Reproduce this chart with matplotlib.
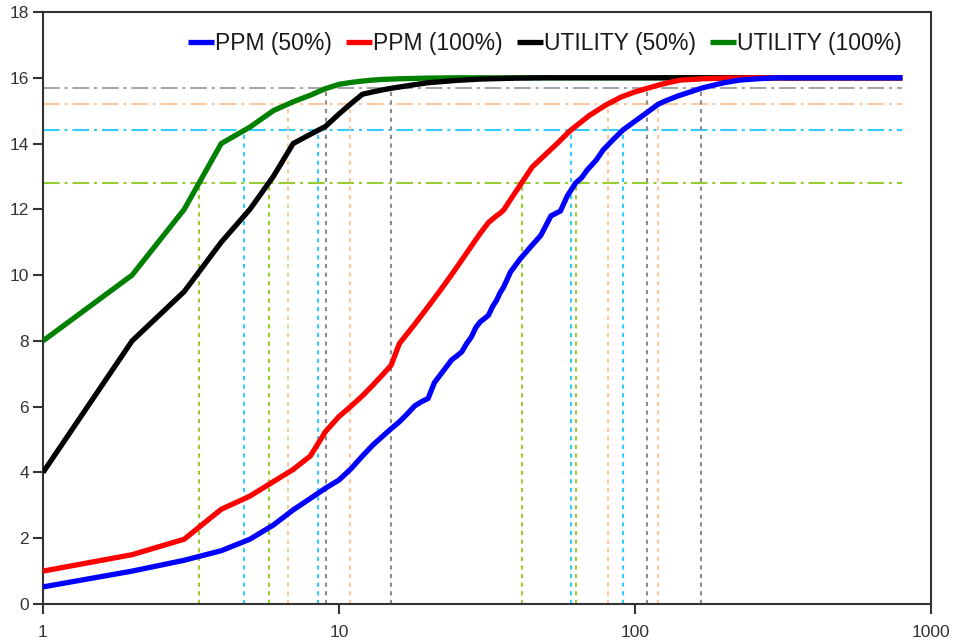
import numpy as np
import matplotlib
matplotlib.use("Agg")
import matplotlib.pyplot as plt

plt.rcParams['font.family'] = ['Liberation Sans', 'DejaVu Sans']
plt.rcParams['lines.scale_dashes'] = False

# ---- data -------------------------------------------------------------
total = 16.0
fractions = [0.80, 0.90, 0.95, 0.98]
fraction_colors = ['#99CC33', '#33CCFF', '#FDC89E', '#8C8C8C']
fraction_hcolors = ['#99CC33', '#33CCFF', '#FDC89E', '#A6A6A6']

util_x = [1, 2, 3, 4, 5, 6, 7, 8, 9, 10, 11, 12, 13, 14, 15, 16, 18, 20,
          25, 30, 40, 50, 800]
util100_y = [8.0, 10.0, 12.0, 14.0, 14.5, 15.0, 15.27, 15.47, 15.67, 15.8,
             15.86, 15.9, 15.93, 15.95, 15.96, 15.97, 15.98, 15.99, 16.0,
             16.0, 16.0, 16.0, 16.0]
util50_y = [4.0, 8.0, 9.5, 11.0, 12.0, 13.0, 14.0, 14.28, 14.52, 14.9,
            15.22, 15.5, 15.57, 15.63, 15.68, 15.72, 15.79, 15.85, 15.92,
            15.96, 15.99, 16.0, 16.0]

ppm100_x = [1, 2, 3, 4, 5, 6, 7, 8, 9, 10, 11, 12, 13, 14, 15, 16, 18, 20,
            22, 24, 26, 28, 30, 32, 33, 34, 35, 36, 38, 40, 42, 45, 50, 55,
            60, 65, 70, 80, 90, 100, 110, 125, 142, 170, 200, 250, 800]
ppm100_y = [1.0, 1.5, 1.97, 2.88, 3.28, 3.72, 4.09, 4.5, 5.24, 5.7, 6.02,
            6.33, 6.65, 6.96, 7.26, 7.92, 8.5, 9.04, 9.54, 10.01, 10.46,
            10.88, 11.27, 11.6, 11.7, 11.8, 11.88, 11.98, 12.3, 12.6, 12.89,
            13.29, 13.68, 14.03, 14.37, 14.62, 14.85, 15.18, 15.42, 15.57,
            15.68, 15.82, 15.93, 15.97, 15.99, 16.0, 16.0]

ppm50_x = [1, 2, 3, 4, 5, 6, 7, 8, 9, 10, 11, 12, 13, 14, 15, 16, 17, 18,
           19, 20, 21, 22, 23, 24, 25, 26, 27, 28, 29, 30, 31, 32, 33, 34,
           35, 36, 38, 41, 45, 48, 52, 56, 59, 63, 66, 69, 74, 78, 85, 91,
           100, 110, 120, 127, 140, 161, 170, 200, 226, 260, 300, 800]
ppm50_y = [0.52, 1.0, 1.33, 1.62, 1.97, 2.4, 2.86, 3.21, 3.52, 3.77, 4.12,
           4.5, 4.83, 5.09, 5.33, 5.54, 5.78, 6.02, 6.15, 6.25, 6.73, 6.97,
           7.2, 7.42, 7.54, 7.67, 7.92, 8.12, 8.41, 8.58, 8.68, 8.78, 9.04,
           9.22, 9.46, 9.64, 10.1, 10.5, 10.92, 11.2, 11.8, 11.95, 12.4,
           12.8, 12.96, 13.2, 13.5, 13.8, 14.15, 14.41, 14.68, 14.95, 15.2,
           15.3, 15.45, 15.63, 15.7, 15.85, 15.93, 15.97, 16.0, 16.0]

series = [
    ('PPM (50%)', ppm50_x, ppm50_y, '#0000FF'),
    ('PPM (100%)', ppm100_x, ppm100_y, '#FF0000'),
    ('UTILITY (50%)', util_x, util50_y, '#000000'),
    ('UTILITY (100%)', util_x, util100_y, '#008000'),
]

x_ticks = [1, 10, 100, 1000]
y_ticks = list(range(0, 19, 2))


def crossing(xs, ys, level):
    """x (log-interpolated) where a rising curve first reaches level."""
    xs = np.asarray(xs, float)
    ys = np.asarray(ys, float)
    i = int(np.argmax(ys >= level))
    if i == 0:
        return xs[0]
    t = (level - ys[i - 1]) / (ys[i] - ys[i - 1])
    lx = np.log10(xs[i - 1]) + t * (np.log10(xs[i]) - np.log10(xs[i - 1]))
    return 10 ** lx


# ---- figure -----------------------------------------------------------
fig = plt.figure(figsize=(9.54, 6.43), dpi=100)
ax = fig.add_axes([43 / 954, 39 / 643, 888 / 954, 592 / 643])
ax.set_xscale('log')
ax.set_xlim(1, 1000)
ax.set_ylim(0, 18)

x_end = max(ppm50_x)
dashdot = (0, (12, 3.5, 2.2, 3.5))
dashed = (0, (3, 3.2))

# threshold levels and where each curve reaches them
for frac, hcol, vcol in zip(fractions, fraction_hcolors, fraction_colors):
    level = frac * total
    ax.plot([1, x_end], [level, level], color=hcol, lw=1.5,
            linestyle=dashdot, zorder=2)
    for _, xs, ys, _c in series:
        xc = crossing(xs, ys, level)
        ax.plot([xc, xc], [0, level], color=vcol, lw=1.5,
                linestyle=dashed, zorder=2)

handles = {}
for label, xs, ys, col in reversed(series):
    ln, = ax.plot(xs, ys, color=col, lw=3.8, solid_joinstyle='round',
                  solid_capstyle='butt', zorder=3, label=label)
    handles[label] = ln

ax.legend([handles[s[0]] for s in series], [s[0] for s in series],
          loc='upper right', bbox_to_anchor=(0.983, 0.99), ncol=4,
          frameon=False, fontsize=16.5, handlelength=1.15,
          handletextpad=0.05, columnspacing=0.6, borderaxespad=0.2,
          labelcolor='#1a1a1a')

ax.set_xticks(x_ticks)
ax.set_xticklabels([str(v) for v in x_ticks])
ax.xaxis.set_minor_locator(matplotlib.ticker.NullLocator())
ax.set_yticks(y_ticks)
ax.set_yticklabels([str(v) for v in y_ticks])

for side in ['left', 'bottom', 'top', 'right']:
    ax.spines[side].set_color('#333333')
    ax.spines[side].set_linewidth(1.5)
ax.tick_params(axis='both', direction='out', length=7, width=1.5,
               color='#333333', labelsize=12.5, labelcolor='#333333')
ax.tick_params(axis='x', pad=8)
ax.tick_params(axis='y', pad=3)

fig.savefig('out.png', dpi=100)
